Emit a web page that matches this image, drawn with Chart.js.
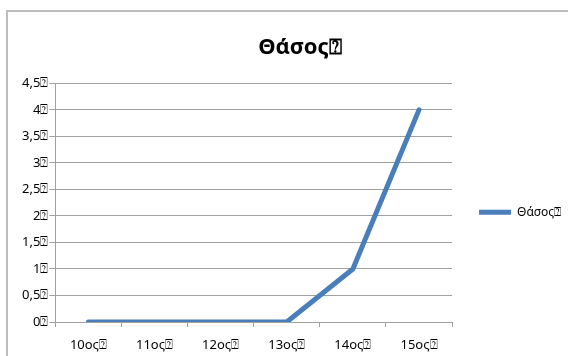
<!DOCTYPE html>
<html>
<head>
<meta charset="utf-8">
<script src="https://cdn.jsdelivr.net/npm/chart.js@4"></script>
<style>
    body { margin: 0; background: #fff; overflow: hidden; }
    #frame {
        position: absolute; left: 6px; top: 10px; width: 562px; height: 346px;
        border-left: 2px solid #bdbdbd; border-top: 2px solid #bdbdbd;
    }
    #chart { position: absolute; left: 0; top: 0; }
</style>
</head>
<body>
<div id="frame"><canvas id="chart" width="588" height="344"></canvas></div>
<script>
const categorias = ['10ος⍰', '11ος⍰', '12ος⍰', '13ος⍰', '14ος⍰', '15ος⍰'];
const valores = [0, 0, 0, 0, 1, 4];
const nomeSerie = 'Θάσος⍰';
const titulo = 'Θάσος⍰';

Chart.defaults.font.family = '"Noto Sans", sans-serif';
Chart.defaults.color = '#000';

// espaço vazio à direita da legenda (não mexe no título)
const espacador = {
    id: 'espacador',
    beforeInit: function (chart) {
        Chart.layouts.addBox(chart, {
            position: 'right',
            weight: 1500,
            fullSize: false,
            options: {},
            isHorizontal: function () { return false; },
            update: function (maxW, maxH) { this.width = 8; this.height = maxH; },
            draw: function () {}
        });
    }
};

var ctx = document.getElementById('chart').getContext('2d');
const config = {
    type: 'line',
    data: {
        labels: categorias,
        datasets: [{
            label: nomeSerie,
            data: valores,
            borderColor: '#4a7ebb',
            backgroundColor: '#4a7ebb',
            borderWidth: 5,
            borderCapStyle: 'round',
            borderJoinStyle: 'round',
            pointRadius: 0,
            pointStyle: 'line',
            tension: 0
        }]
    },
    options: {
        responsive: false,
        animation: false,
        layout: { padding: { left: 13, right: 17, top: 12, bottom: 0 } },
        plugins: {
            title: {
                display: true,
                text: titulo,
                font: { size: 22, weight: 'bold' },
                padding: { top: 11, bottom: 22 }
            },
            legend: {
                position: 'right',
                maxWidth: 200,
                title: { display: true, text: ' ', padding: { top: 0, bottom: 30 } },
                labels: {
                    usePointStyle: true,
                    pointStyleWidth: 32,
                    font: { size: 12 },
                    padding: 27
                }
            },
            tooltip: { enabled: false }
        },
        scales: {
            x: {
                offset: true,
                afterFit: function (axis) { axis.height = 34; },
                grid: {
                    offset: true,
                    drawOnChartArea: false,
                    tickLength: 5,
                    color: '#a0a0a0'
                },
                border: { color: '#a0a0a0' },
                ticks: { font: { size: 13 }, padding: 10 }
            },
            y: {
                min: 0,
                max: 4.5,
                grid: { color: '#a0a0a0', tickLength: 6 },
                border: { color: '#a0a0a0' },
                ticks: {
                    stepSize: 0.5,
                    font: { size: 13 },
                    padding: 1,
                    callback: function (v) {
                        return String(v).replace('.', ',') + '⍰';
                    }
                }
            }
        }
    },
    plugins: [espacador]
};
var myChart = new Chart(ctx, config);
</script>
</body>
</html>
